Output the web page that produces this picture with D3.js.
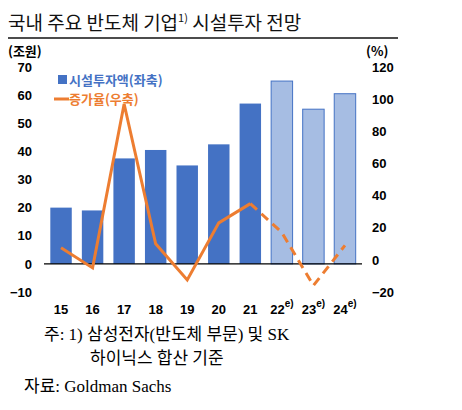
<!DOCTYPE html>
<html><head><meta charset="utf-8">
<script src="https://cdn.jsdelivr.net/npm/d3@7"></script>
<style>body{margin:0;background:#fff;font-family:"Noto Sans CJK KR","Noto Sans",sans-serif}</style>
</head><body><svg id="c" width="462" height="410"></svg>
<script>
let years = ["15", "16", "17", "18", "19", "20", "21", "22", "23", "24"];
let estimated = [false, false, false, false, false, false, false, true, true, true];
let capex = [20, 19, 37.5, 40.5, 35, 42.5, 57, 65, 55, 60.5];
let growth = [7.5, -5, 97, 10, -12.5, 23, 35, 17, -16, 9];
let leftTicks = [-10, 0, 10, 20, 30, 40, 50, 60, 70];
let rightTicks = [-20, 0, 20, 40, 60, 80, 100, 120];

let svg = d3.select("#c");
let margin = { top: 67, left: 44, right: 100, bottom: 118 };
let width = 462 - margin.left - margin.right;
let height = 410 - margin.top - margin.bottom;
let g = svg.append("g").attr("transform", `translate(${margin.left},${margin.top})`);

let x = d3.scaleBand().domain(years).range([0, width]).paddingInner(0.32).paddingOuter(0.2);
let yL = d3.scaleLinear().domain([-10, 70]).range([height, 0]);
let yR = d3.scaleLinear().domain([-20, 120]).range([height, 0]);

// title
svg.append("text").attr("x", 8).attr("y", 30).attr("font-size", 19).attr("fill", "#111")
    .html('국내 주요 반도체 기업<tspan font-size="11" dy="-8">1)</tspan><tspan dy="8"> 시설투자 전망</tspan>');
svg.append("line").attr("x1", 8).attr("x2", 398).attr("y1", 38).attr("y2", 38).attr("stroke", "#111").attr("stroke-width", 1.3);

svg.append("text").attr("x", 8).attr("y", 56).attr("font-size", 13).attr("font-weight", "bold").text("(조원)");
svg.append("text").attr("x", 366).attr("y", 56).attr("font-size", 13).attr("font-weight", "bold").text("(%)");

// bars
g.selectAll("rect.bar").data(years).join("rect")
    .attr("x", (d) => x(d))
    .attr("width", x.bandwidth())
    .attr("y", (d, i) => yL(capex[i]))
    .attr("height", (d, i) => yL(0) - yL(capex[i]))
    .attr("fill", (d, i) => (estimated[i] ? "#a6bde3" : "#4472c4"))
    .attr("stroke", (d, i) => (estimated[i] ? "#4472c4" : "none"))
    .attr("stroke-width", 1);

// zero line
g.append("line").attr("x1", 0).attr("x2", width).attr("y1", yL(0)).attr("y2", yL(0)).attr("stroke", "#000").attr("stroke-width", 1.2);

// axes
let axisL = g.append("g").call(d3.axisLeft(yL).tickValues(leftTicks).tickSize(0).tickPadding(12));
let axisR = g.append("g").attr("transform", `translate(${width},0)`).call(d3.axisRight(yR).tickValues(rightTicks).tickSize(0).tickPadding(10));
[axisL, axisR].forEach((a) => {
    a.select(".domain").remove();
    a.selectAll("text").attr("font-size", 13).attr("font-weight", "bold").attr("fill", "#000").attr("font-family", "Liberation Sans, sans-serif");
});

// x labels
years.forEach((yr, i) => {
    let t = g.append("text").attr("x", x(yr) + x.bandwidth() / 2).attr("y", height + 22)
        .attr("text-anchor", "middle").attr("font-size", 13).attr("font-weight", "bold").attr("font-family", "Liberation Sans, sans-serif");
    t.append("tspan").text(yr);
    if (estimated[i]) t.append("tspan").attr("dy", -7).attr("font-size", 10).text("e)");
});

// line
let cx = (i) => x(years[i]) + x.bandwidth() / 2;
let line = d3.line().x((d) => cx(d)).y((d) => yR(growth[d]));
g.append("path").datum([0, 1, 2, 3, 4, 5, 6]).attr("d", line).attr("fill", "none").attr("stroke", "#ed7d31").attr("stroke-width", 3);
g.append("path").datum([6, 7, 8, 9]).attr("d", line).attr("fill", "none").attr("stroke", "#ed7d31").attr("stroke-width", 3).attr("stroke-dasharray", "9,6");

// legend
let lg = g.append("g").attr("transform", "translate(14,6)");
lg.append("rect").attr("x", 0).attr("y", 2).attr("width", 9).attr("height", 9).attr("fill", "#4472c4");
lg.append("text").attr("x", 11).attr("y", 12).attr("font-size", 13).attr("font-weight", "bold").attr("fill", "#4472c4").text("시설투자액(좌축)");
lg.append("line").attr("x1", -4).attr("x2", 11).attr("y1", 26).attr("y2", 26).attr("stroke", "#ed7d31").attr("stroke-width", 3);
lg.append("text").attr("x", 11).attr("y", 31).attr("font-size", 13).attr("font-weight", "bold").attr("fill", "#ed7d31").text("증가율(우축)");

// notes
let notes = svg.append("g").attr("font-size", 17).attr("font-family", "Liberation Serif, Noto Sans CJK KR, serif");
notes.append("text").attr("x", 44).attr("y", 340).text("주: 1) 삼성전자(반도체 부문) 및 SK");
notes.append("text").attr("x", 90).attr("y", 364).text("하이닉스 합산 기준");
notes.append("text").attr("x", 24).attr("y", 392).text("자료: Goldman Sachs");
</script></body></html>
